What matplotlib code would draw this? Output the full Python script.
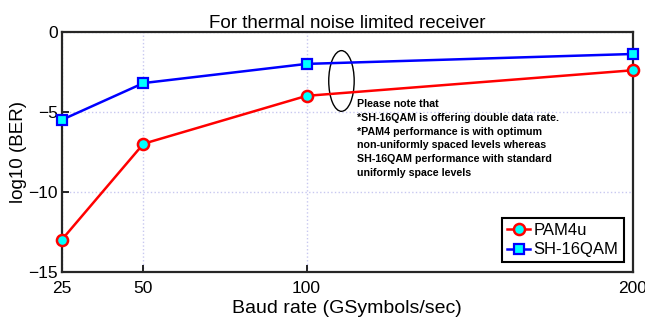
import matplotlib
matplotlib.use("Agg")
import matplotlib.pyplot as plt
from matplotlib.patches import Ellipse

plt.rcParams['font.family'] = ['Liberation Sans', 'DejaVu Sans']

baud = [25, 50, 100, 200]
pam4u = [-13.0, -7.0, -4.0, -2.4]
sh16qam = [-5.5, -3.2, -2.0, -1.38]
xticks = [25, 50, 100, 200]
yticks = [0, -5, -10, -15]

note = ("Please note that\n"
        "*SH-16QAM is offering double data rate.\n"
        "*PAM4 performance is with optimum\n"
        "non-uniformly spaced levels whereas\n"
        "SH-16QAM performance with standard\n"
        "uniformly space levels")

fig = plt.figure(figsize=(6.45, 3.26), dpi=100)
ax = fig.add_axes([0.096, 0.167, 0.885, 0.735])

ax.plot(baud, pam4u, "-o", color="red", lw=1.8, ms=8, mfc="cyan",
        mec="red", mew=1.8, label="PAM4u", clip_on=False, zorder=3)
ax.plot(baud, sh16qam, "-s", color="blue", lw=1.8, ms=7, mfc="cyan",
        mec="blue", mew=1.6, label="SH-16QAM", clip_on=False, zorder=3)

ax.add_patch(Ellipse((110.7, -3.07), 7.8, 3.8, fill=False, ec="black", lw=1.0))
ax.text(115.4, -4.2, note, fontsize=7.7, fontweight="bold", va="top",
        ha="left", linespacing=1.47)

ax.set_xlim(25, 200)
ax.set_ylim(-15, 0)
ax.set_xticks(xticks)
ax.set_yticks(yticks)
ax.tick_params(direction="in", labelsize=12.5, length=5, width=1.2)
ax.tick_params(axis="x", pad=7)
ax.tick_params(axis="y", pad=3)
ax.grid(True, color="#c8c8f0", ls=":", lw=1.0)
for s in ax.spines.values():
    s.set_linewidth(1.6)
    s.set_color("#262626")

ax.set_title("For thermal noise limited receiver", fontsize=13.5, pad=3)
ax.set_xlabel("Baud rate (GSymbols/sec)", fontsize=14, labelpad=3)
ax.set_ylabel("log10 (BER)", fontsize=13.5, labelpad=1)

leg = ax.legend(loc="lower right", fontsize=12, fancybox=False,
                edgecolor="black", framealpha=1, handlelength=1.4,
                handletextpad=0.2, borderpad=0.3, labelspacing=0.25,
                borderaxespad=0.55)
leg.get_frame().set_linewidth(1.5)

fig.savefig("out.png", dpi=100)
